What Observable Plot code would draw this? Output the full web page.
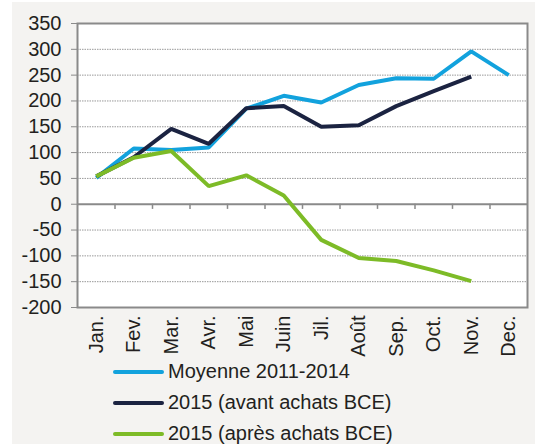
<!DOCTYPE html>
<html><head><meta charset="utf-8">
<script src="https://cdn.jsdelivr.net/npm/d3@7"></script>
<script src="https://cdn.jsdelivr.net/npm/@observablehq/plot@0.6"></script>
<style>
body{margin:0;background:#fff;}
#wrap{position:relative;width:535px;height:445px;overflow:hidden;font-family:"Liberation Sans",Arial,sans-serif;color:#231f20;}
#panel{position:absolute;left:12px;top:2px;right:0;bottom:1px;background:#f4f3f1;}
#chart{position:absolute;left:0;top:0;}
#legend{position:absolute;left:0;top:0;width:535px;height:445px;}
.item{position:absolute;left:113px;height:34px;}
.sw{position:absolute;left:0;top:15px;width:51px;height:4px;border-radius:2px;}
.lbl{position:absolute;left:55px;top:4px;white-space:nowrap;font-size:20px;line-height:24px;}
</style></head><body>
<div id="wrap"><div id="panel"></div><div id="chart"></div><div id="legend"></div></div>
<script>
const months = ["Jan.", "Fev.", "Mar.", "Avr.", "Mai", "Juin", "Jil.", "Août", "Sep.", "Oct.", "Nov.", "Dec."];
const moyenne = [51, 108, 105, 110, 185, 210, 197, 231, 244, 243, 296, 250];
const avant = [54, 91, 146, 117, 186, 190, 150, 153, 190, 219, 247];
const apres = [54, 90, 103, 35, 56, 17, -69, -104, -110, -128, -149];
const seriesNames = ["Moyenne 2011-2014", "2015 (avant achats BCE)", "2015 (après achats BCE)"];
const seriesColors = ["#12a2dd", "#1b2341", "#7dbb27"];
const yTicks = [-200, -150, -100, -50, 0, 50, 100, 150, 200, 250, 300, 350];

const seriesValues = [moyenne, avant, apres];
const rows = [];
seriesValues.forEach((vals, k) => vals.forEach((v, i) => rows.push({i, v, s: seriesNames[k]})));
const boundaries = months.slice(1).map((m, i) => i + 0.5);

const plot = Plot.plot({
  width: 535, height: 360,
  marginTop: 23, marginBottom: 53, marginLeft: 77, marginRight: 8,
  style: {background: "transparent", fontFamily: "'Liberation Sans', Arial, sans-serif", fontSize: "20px", color: "#231f20"},
  x: {domain: [-0.5, months.length - 0.5], axis: null},
  y: {domain: [-200, 350], axis: null},
  color: {domain: seriesNames, range: seriesColors},
  marks: [
    Plot.frame({fill: "white"}),
    Plot.gridY(yTicks.filter(v => v !== 0 && v !== -200 && v !== 350), {stroke: "#999", strokeOpacity: 1, strokeDasharray: "1.5,1", strokeWidth: 1}),
    Plot.ruleY([0], {stroke: "#8a8a8a", strokeWidth: 2}),
    Plot.ruleX(boundaries, {y1: 0, y2: -10, stroke: "#8a8a8a", strokeWidth: 1.5}),
    Plot.line(rows, {x: "i", y: "v", z: "s", stroke: "s", strokeWidth: 4, strokeLinejoin: "miter", strokeLinecap: "butt"}),
    Plot.frame({stroke: "#8a8a8a", strokeWidth: 2}),
    Plot.axisY({ticks: yTicks, tickSize: 6, tickPadding: 10, stroke: "#8a8a8a", tickFormat: d => String(d), fontSize: 20, label: null}),
    Plot.axisX({ticks: months.map((m, i) => i), tickFormat: i => months[i], tickRotate: -90, tickSize: 0, tickPadding: 8, fontSize: 20, label: null})
  ]
});
document.getElementById("chart").appendChild(plot);

const legend = document.getElementById("legend");
seriesNames.forEach((name, k) => {
  const it = document.createElement("div");
  it.className = "item";
  it.style.top = (355 + k * 31) + "px";
  const sw = document.createElement("div");
  sw.className = "sw";
  sw.style.background = seriesColors[k];
  const lb = document.createElement("div");
  lb.className = "lbl";
  lb.textContent = name;
  it.appendChild(sw); it.appendChild(lb);
  legend.appendChild(it);
});
</script>
</body></html>
